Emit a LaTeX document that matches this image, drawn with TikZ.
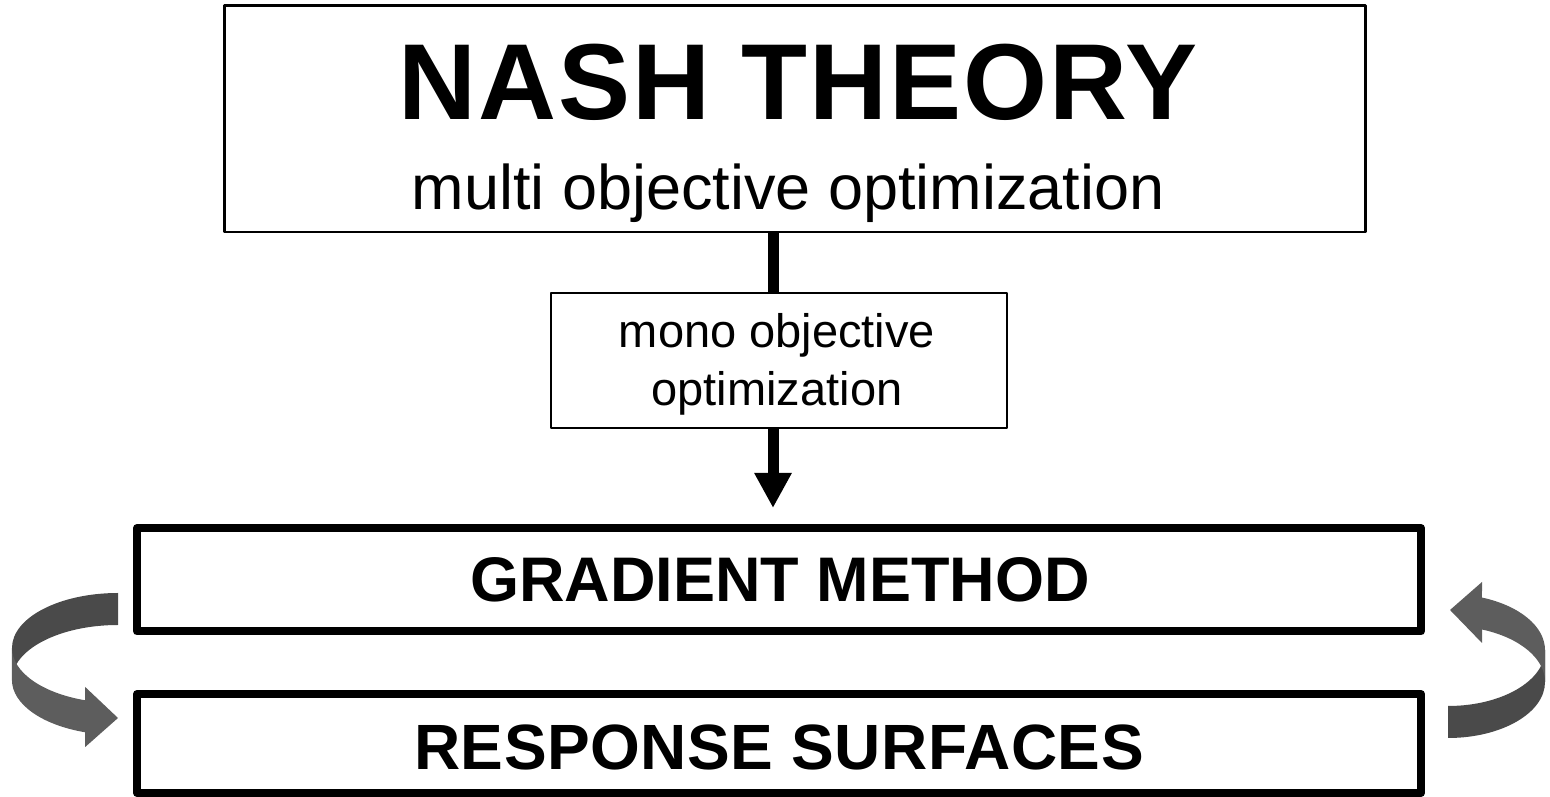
\documentclass[tikz,border=0pt]{standalone}
\usepackage{fontspec}
\setmainfont{Liberation Sans}
\usetikzlibrary{arrows.meta}
\definecolor{ribdark}{HTML}{4A4A4A}
\definecolor{riblight}{HTML}{5D5D5D}
\begin{document}
\begin{tikzpicture}[x=1pt,y=1pt,
  thinbox/.style={draw=black,rectangle,inner sep=0pt,outer sep=0pt,line join=round},
  thickbox/.style={draw=black,rectangle,inner sep=0pt,outer sep=0pt,line width=8pt,line join=round},
  shaft/.style={line width=11pt},
  lbl/.style={inner sep=0pt,anchor=base}]
\useasboundingbox (0,0) rectangle (1550,797);
% boxes
\node[thinbox,line width=2.5pt,minimum width=1141pt,minimum height=226.5pt] (top) at (795,678.25) {};
\node[thinbox,line width=2pt,minimum width=456pt,minimum height=135pt] (mono) at (779,436.5) {};
\node[thickbox,minimum width=1284pt,minimum height=103.5pt] (grad) at (779,217.25) {};
\node[thickbox,minimum width=1284pt,minimum height=99pt] (resp) at (779,53.5) {};
% texts
\node[lbl,font=\fontsize{108}{108}\selectfont\bfseries\addfontfeatures{LetterSpace=1.7}] (t1) at (798,677) {NASH THEORY};
\node[lbl,font=\fontsize{63}{63}\selectfont] (t2) at (788,587) {multi objective optimization};
\node[lbl,font=\fontsize{47}{47}\selectfont] (t3) at (777,449) {mono objective};
\node[lbl,font=\fontsize{47}{47}\selectfont] (t4) at (777,391) {optimization};
\node[lbl,font=\fontsize{63}{63}\selectfont\bfseries] (t5) at (780,195) {GRADIENT METHOD};
\node[lbl,font=\fontsize{64}{64}\selectfont\bfseries\addfontfeatures{LetterSpace=0.8}] (t6) at (779,27) {RESPONSE SURFACES};
% straight arrows
\coordinate (ax) at (773,0);
\coordinate (tip) at (773,289);
\draw[shaft] (top.south -| ax) -- (mono.north -| ax);
\draw[shaft,-{Triangle[width=35pt,length=35pt]}] (mono.south -| ax) -- (tip);
% left curved ribbon arrow
\fill[ribdark] (118,204) arc[start angle=90,end angle=180,x radius=106pt,y radius=55pt]
  -- (12,117) arc[start angle=180,end angle=90,x radius=106pt,y radius=55pt] -- cycle;
\fill[riblight] (12,149) arc[start angle=180,end angle=252,x radius=106pt,y radius=55pt]
  -- (85.2,110) -- (118,79) -- (85.2,50) -- (85.2,64.7)
  arc[start angle=252,end angle=180,x radius=106pt,y radius=55pt] -- cycle;
% right curved ribbon arrow
\fill[ribdark] (1448,91) arc[start angle=270,end angle=360,x radius=97pt,y radius=56pt]
  -- (1545,115) arc[start angle=360,end angle=270,x radius=97pt,y radius=56pt] -- cycle;
\fill[riblight] (1545,147) arc[start angle=0,end angle=69.5,x radius=97pt,y radius=56pt]
  -- (1482,215) -- (1450,187) -- (1482,154) -- (1482,167.5)
  arc[start angle=69.5,end angle=0,x radius=97pt,y radius=56pt] -- cycle;
\end{tikzpicture}
\end{document}
